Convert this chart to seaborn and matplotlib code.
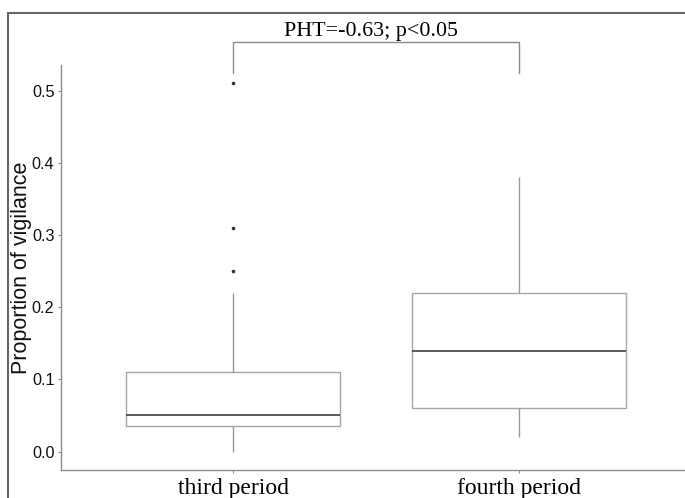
import matplotlib
matplotlib.use("Agg")
import matplotlib.pyplot as plt
from matplotlib.patches import Rectangle
import seaborn as sns
import pandas as pd

periods = ["third period", "fourth period"]
third_values = [0.0, 0.01, 0.02, 0.03, 0.035, 0.04, 0.045, 0.05, 0.05,
                0.06, 0.08, 0.10, 0.11, 0.22, 0.25, 0.31, 0.51]
fourth_values = [0.02, 0.04, 0.06, 0.10, 0.14, 0.18, 0.22, 0.30, 0.38]
y_ticks = [0.0, 0.1, 0.2, 0.3, 0.4, 0.5]
y_tick_labels = ["0.0", "0.1", "0.2", "0.3", "0.4", "0.5"]
annotation = "PHT=-0.63; p<0.05"
y_label = "Proportion of vigilance"

df = pd.DataFrame({
    "period": [periods[0]] * len(third_values) + [periods[1]] * len(fourth_values),
    "value": third_values + fourth_values,
})

sns.set_theme(style="white")
plt.rcParams["font.family"] = ["Liberation Sans", "DejaVu Sans"]

fig = plt.figure(figsize=(6.85, 4.98), dpi=100)
ax = fig.add_axes([61.4 / 685, 1 - 470 / 498, (690.6 - 61.4) / 685, (470 - 65) / 498])

box_edge = "#a6a6a6"
sns.boxplot(
    data=df, x="period", y="value", order=periods, ax=ax, width=0.75,
    color="white", linecolor=box_edge, linewidth=1.0,
    boxprops=dict(facecolor="white", edgecolor=box_edge, linewidth=1.0),
    whiskerprops=dict(color="#999999", linewidth=1.0),
    capprops=dict(linewidth=0),
    medianprops=dict(color="#404040", linewidth=1.2),
    flierprops=dict(marker="o", markersize=1.6, markerfacecolor="#333333",
                    markeredgecolor="#333333"),
)

ax.set_xlim(-0.6, 1.6)
ax.set_ylim(-0.0255, 0.5355)
ax.set_yticks(y_ticks)
ax.set_yticklabels(y_tick_labels, fontsize=11.7, color="#111111")
ax.set_xticks([0, 1])
ax.set_xticklabels(periods, fontsize=17, family=["Liberation Serif", "DejaVu Serif"], color="black")
ax.set_xlabel("")
ax.set_ylabel(y_label, fontsize=15.5, color="#111111", labelpad=0)

for s in ["top", "right"]:
    ax.spines[s].set_visible(False)
for s in ["left", "bottom"]:
    ax.spines[s].set_color("#8c8c8c")
    ax.spines[s].set_linewidth(1.0)
ax.tick_params(axis="both", which="both", direction="out", length=2.5, width=0.8,
               color="#8c8c8c", left=True, bottom=True)
ax.tick_params(axis="y", pad=2.5)
ax.tick_params(axis="x", pad=3)

# significance bracket
ax.plot([0, 0, 1, 1], [0.5249, 0.5668, 0.5668, 0.5249], color="#8c8c8c",
        linewidth=1.0, clip_on=False)
ax.text(0.484, 0.5761, annotation, ha="center", va="baseline", fontsize=15.8,
        family=["Liberation Serif", "DejaVu Serif"], color="black", clip_on=False)

# outer frame
fig.add_artist(Rectangle((8 / 685, -0.5), 2.0, 0.5 + (1 - 13 / 498), fill=False,
                         edgecolor="#666666", linewidth=1.5, transform=fig.transFigure))

fig.savefig("out.png", dpi=100)
